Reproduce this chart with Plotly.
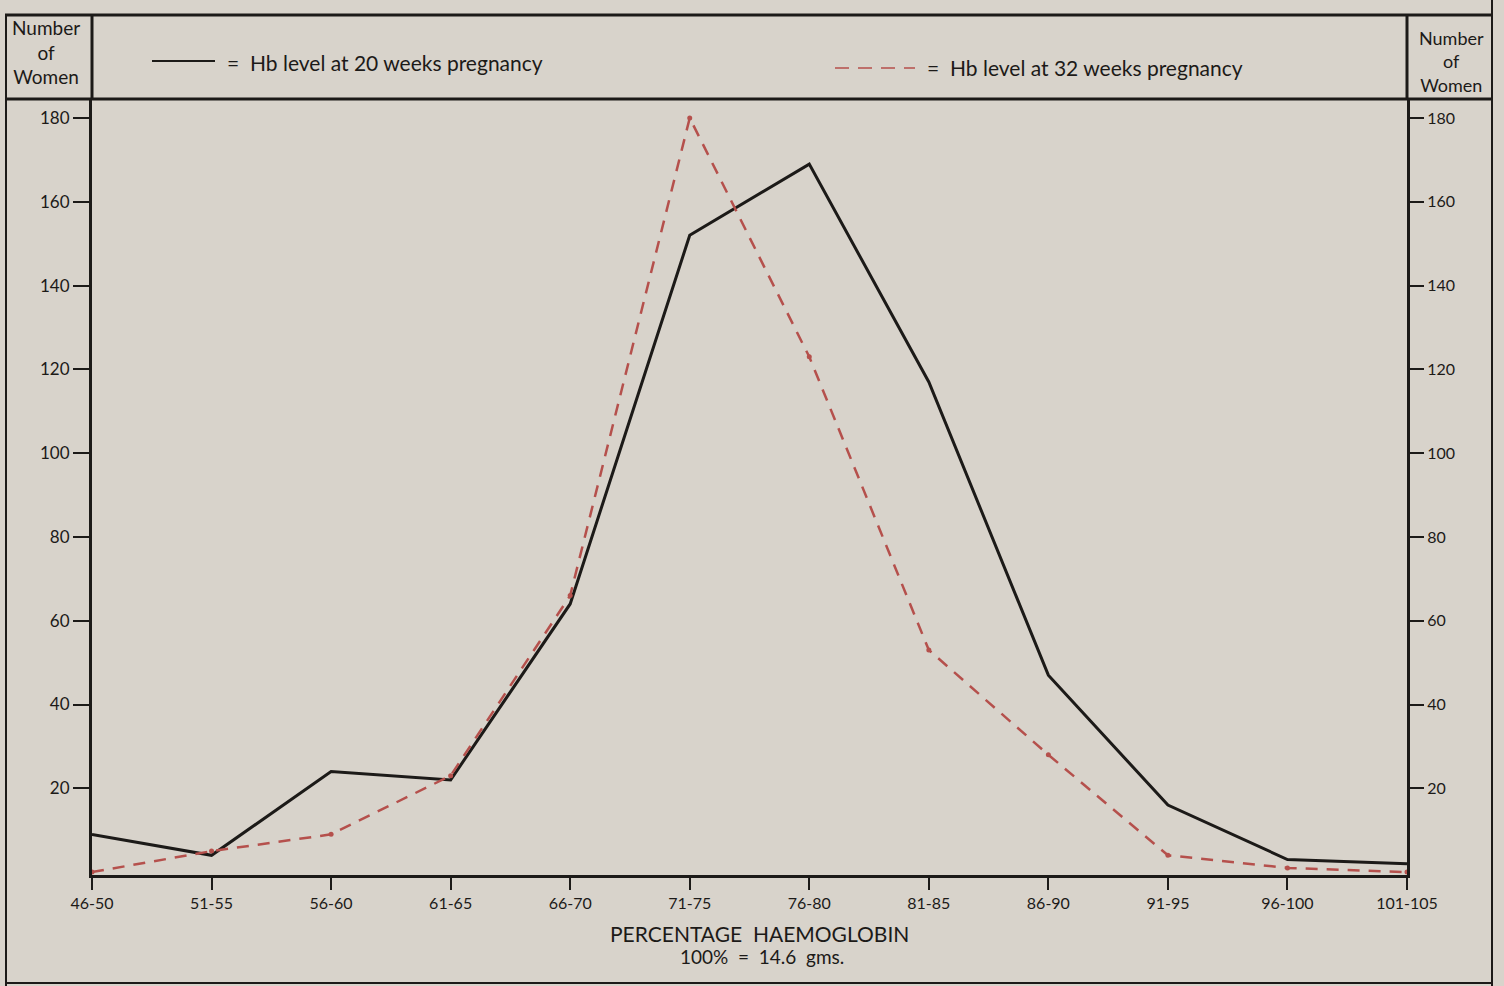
import plotly.graph_objects as go

categories = ["46-50", "51-55", "56-60", "61-65", "66-70", "71-75",
              "76-80", "81-85", "86-90", "91-95", "96-100", "101-105"]
hb_20_weeks = [9, 4, 24, 22, 64, 152, 169, 117, 47, 16, 3, 2]
hb_32_weeks = [0, 5, 9, 23, 66, 180, 123, 53, 28, 4, 1, 0]
y_ticks = [20, 40, 60, 80, 100, 120, 140, 160, 180]

W, H = 1504, 986
L, R, T, B = 92, 97, 100, 111
PW, PH = W - L - R, H - T - B

def px(x):
    return (x - L) / PW

def py(y):
    return (H - B - y) / PH

FONT = "Lato, Open Sans, sans-serif"
INK = "#1c1a18"
RED = "#b5504c"
BG = "#d8d3cb"

fig = go.Figure()
fig.add_trace(go.Scatter(
    x=list(range(len(categories))), y=hb_20_weeks, mode="lines",
    line=dict(color=INK, width=3), name="Hb level at 20 weeks pregnancy",
    showlegend=False))
fig.add_trace(go.Scatter(
    x=list(range(len(categories))), y=hb_32_weeks, mode="lines+markers",
    line=dict(color=RED, width=2.5, dash="12px,9px"),
    marker=dict(size=5, color=RED), name="Hb level at 32 weeks pregnancy",
    showlegend=False))
# invisible trace for the right axis
fig.add_trace(go.Scatter(x=[0], y=[0], yaxis="y2", mode="markers",
                         marker=dict(opacity=0), showlegend=False, hoverinfo="skip"))

fig.update_layout(
    width=W, height=H,
    margin=dict(l=L, r=R, t=T, b=B),
    paper_bgcolor=BG, plot_bgcolor=BG,
    font=dict(family=FONT, color=INK, size=15),
    xaxis=dict(
        range=[0, len(categories) - 1], tickmode="array",
        tickvals=list(range(len(categories))), ticktext=categories,
        ticks="outside", ticklen=12, tickwidth=2, tickcolor=INK,
        showline=True, linecolor=INK, linewidth=3, mirror=False,
        showgrid=False, zeroline=False, tickfont=dict(size=16),
    ),
    yaxis=dict(
        range=[-0.7, 184.3], tickmode="array", tickvals=y_ticks,
        ticks="outside", ticklen=16, tickwidth=2, tickcolor=INK,
        showline=True, linecolor=INK, linewidth=3,
        showgrid=False, zeroline=False, tickfont=dict(size=17),
    ),
    yaxis2=dict(
        range=[-0.7, 184.3], tickmode="array", tickvals=y_ticks,
        overlaying="y", side="right",
        ticks="outside", ticklen=14, tickwidth=2, tickcolor=INK,
        showline=True, linecolor=INK, linewidth=3,
        showgrid=False, zeroline=False, tickfont=dict(size=16),
    ),
)

shapes = []
def hline(y, x0, x1, w=3):
    shapes.append(dict(type="line", xref="paper", yref="paper",
                       x0=px(x0), x1=px(x1), y0=py(y), y1=py(y),
                       line=dict(color=INK, width=w)))
def vline(x, y0, y1, w=3):
    shapes.append(dict(type="line", xref="paper", yref="paper",
                       x0=px(x), x1=px(x), y0=py(y0), y1=py(y1),
                       line=dict(color=INK, width=w)))

hline(15, 5, 1492)
hline(99, 5, 1492)
hline(983, 5, 1492, 2)
vline(6, 15, 986, 2)
vline(1492, 0, 986, 2)
vline(L, 15, 100)
vline(W - R, 15, 100)

# legend samples
shapes.append(dict(type="line", xref="paper", yref="paper",
                   x0=px(152), x1=px(215), y0=py(61), y1=py(61),
                   line=dict(color=INK, width=2)))
shapes.append(dict(type="line", xref="paper", yref="paper",
                   x0=px(835), x1=px(915), y0=py(68), y1=py(68),
                   line=dict(color=RED, width=1.5, dash="14px,9px")))
fig.update_layout(shapes=shapes)

ann = []
def text(x, y, s, size=17, anchor="center"):
    ann.append(dict(x=px(x), y=py(y), xref="paper", yref="paper", text=s,
                    showarrow=False, xanchor=anchor, yanchor="middle",
                    font=dict(size=size, family=FONT, color=INK)))

text(46, 52, "Number<br>of<br>Women", 19)
text(1451, 61, "Number<br>of<br>Women", 18)
text(225, 63, "=  Hb level at 20 weeks pregnancy", 21, "left")
text(925, 67, "=  Hb level at 32 weeks pregnancy", 21, "left")
text(759, 933, "PERCENTAGE  HAEMOGLOBIN", 21)
text(762, 956, "100%  =  14.6  gms.", 19)
fig.update_layout(annotations=ann)

fig.write_html("out.html", config={"displayModeBar": False},
               post_script="document.body.style.margin='0';document.body.style.overflow='hidden';")
